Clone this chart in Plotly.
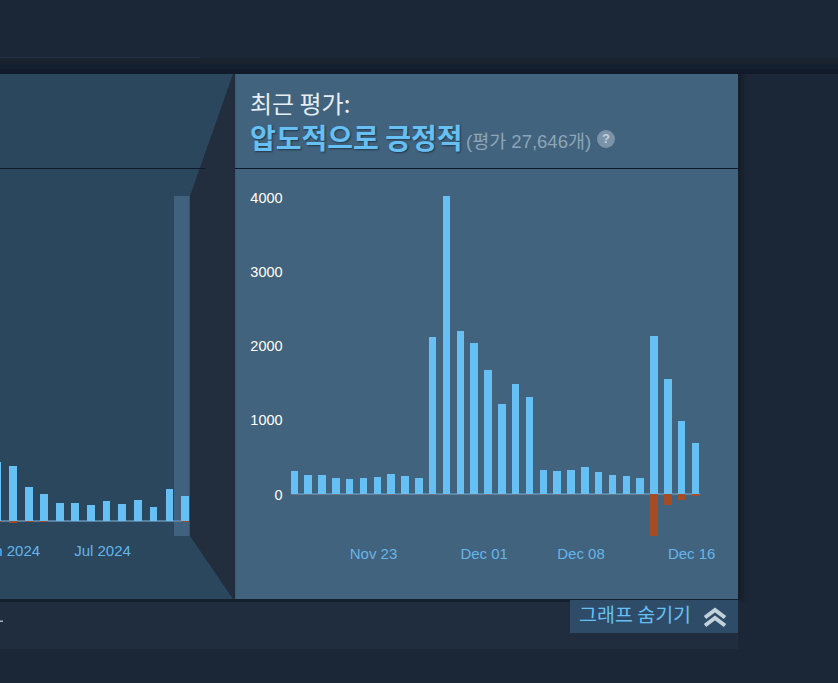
import plotly.graph_objects as go

# ---------- data ----------
recent_dates = [
    "2024-11-17", "2024-11-18", "2024-11-19", "2024-11-20", "2024-11-21", "2024-11-22",
    "2024-11-23", "2024-11-24", "2024-11-25", "2024-11-26", "2024-11-27", "2024-11-28",
    "2024-11-29", "2024-11-30", "2024-12-01", "2024-12-02", "2024-12-03", "2024-12-04",
    "2024-12-05", "2024-12-06", "2024-12-07", "2024-12-08", "2024-12-09", "2024-12-10",
    "2024-12-11", "2024-12-12", "2024-12-13", "2024-12-14", "2024-12-15", "2024-12-16",
]
recent_up = [310, 269, 260, 225, 215, 225, 242, 278, 247, 225, 2120, 4024, 2200, 2043, 1684,
             1215, 1486, 1311, 328, 314, 332, 368, 301, 260, 247, 224, 2137, 1554, 992, 691]
recent_down = [-1, -1, -1, -1, -1, -1, -2, -2, -2, -2, -2, -4, -4, -5, -5,
               -5, -6, -5, -2, -2, -2, -2, -2, -2, -2, -2, -557, -144, -76, -18]
recent_tick_vals = ["2024-11-23", "2024-12-01", "2024-12-08", "2024-12-16"]
recent_tick_text = ["Nov 23", "Dec 01", "Dec 08", "Dec 16"]
recent_y_ticks = [0, 1000, 2000, 3000, 4000]

month_dates = ["2023-12-01", "2024-01-01", "2024-02-01", "2024-03-01", "2024-04-01", "2024-05-01",
               "2024-06-01", "2024-07-01", "2024-08-01", "2024-09-01", "2024-10-01", "2024-11-01",
               "2024-12-01"]
month_up = [29500, 27500, 16850, 13500, 9150, 8850, 8000, 10000, 8650, 10350, 7000, 16000, 12500]
month_down = [-500, -800, -600, -500, -100, -100, -100, -100, -100, -100, -100, -100, -600]
month_tick_vals = ["2024-01-01", "2024-07-01"]
month_tick_text = ["Jan 2024", "Jul 2024"]

TITLE_LABEL = "최근 평가:"
TITLE_VALUE = "압도적으로 긍정적"
TITLE_COUNT = "(평가 27,646개)"
HIDE_LABEL = "그래프 숨기기"

# ---------- helpers: page pixels to paper fractions ----------
W, H = 838, 683
DAY = 86400000
px = lambda x: x / W
py = lambda y: 1 - y / H


def rect(x0, y0, x1, y1, color):
    return dict(type="rect", xref="paper", yref="paper", x0=px(x0), x1=px(x1), y0=py(y0), y1=py(y1),
                fillcolor=color, line=dict(width=0), layer="below")


def path(points, color=None, line=None, closed=True):
    d = "M " + " L ".join(f"{px(a):.5f},{py(b):.5f}" for a, b in points) + (" Z" if closed else "")
    s = dict(type="path", xref="paper", yref="paper", path=d, layer="below",
             line=line or dict(width=0))
    if color:
        s["fillcolor"] = color
    return s


BLUE = "#66c0f4"
RED = "#a34c25"
shapes = [
    rect(0, 0, W, H, "#1b2636"),
    rect(0, 57, 200, 58, "#233245"),
    rect(0, 58, W, 64, "#18232f"),
    rect(0, 64, W, 69, "#142030"),
    rect(0, 69, W, 74, "#101a28"),
    rect(0, 599, 738, 649, "#1f2d3f"),
    rect(744, 74, 747, 603, "#1a2433"),
    rect(741, 74, 744, 602, "#18222f"),
    rect(738, 74, 741, 600, "#151f2c"),
    rect(0, 599, 738, 602, "#16212f"),
    rect(0, 74, 235, 599, "#2a475e"),
    rect(235, 74, 738, 599, "#41637e"),
    path([(233, 74), (235, 74), (235, 599), (233, 599), (190, 536), (190, 196)], "#222d3d"),
    rect(235, 74, 236, 599, "#3d5c76"),
    rect(0, 168, 205, 169, "#0e1a28"),
    rect(235, 168, 738, 169, "#0e1a28"),
    rect(174, 196, 189.5, 536, "#41627e"),
    rect(570, 600, 738, 633, "#2e4c68"),
    path([(705, 617.5), (715, 610), (725, 617.5)], line=dict(color="#c3d1dc", width=4), closed=False),
    path([(705, 625.5), (715, 618), (725, 625.5)], line=dict(color="#c3d1dc", width=4), closed=False),
    rect(0, 620.5, 3, 622, "#9fb4c6"),
    dict(type="circle", xref="paper", yref="paper", x0=px(597), x1=px(615), y0=py(148), y1=py(130),
         fillcolor="#7b93a8", line=dict(width=0), layer="below"),
]


def note(x, y, text, size, color, family="Noto Sans CJK KR, Liberation Sans", xanchor="left", shadow=None):
    font = dict(size=size, color=color, family=family)
    if shadow:
        font["shadow"] = shadow
    return dict(xref="paper", yref="paper", x=px(x), y=py(y), text=text, showarrow=False,
                xanchor=xanchor, yanchor="middle", font=font, borderpad=0, borderwidth=0)


annotations = [
    note(250, 102.5, TITLE_LABEL, 24, "#e6eef4"),
    note(250, 137, f"<b>{TITLE_VALUE}</b>", 28, BLUE, shadow="1px 1px 2px rgba(0,0,0,0.45)"),
    note(466, 141, TITLE_COUNT, 18.5, "#8ea5b7", family="Liberation Sans, Noto Sans CJK KR"),
    note(606, 139, "<b>?</b>", 13, "#c4d0da", family="Liberation Sans", xanchor="center"),
    note(579, 613, HIDE_LABEL, 19.5, BLUE),
]

fig = go.Figure()
bar_common = dict(hoverinfo="skip", marker_line_width=0, showlegend=False, offset=0)
faint_recent = [1 if v <= -15 else 0.3 for v in recent_down]
faint_month = [1 if v <= -500 else 0.4 for v in month_down]
fig.add_bar(x=recent_dates, y=recent_up, marker_color=BLUE, width=0.55 * DAY, **bar_common)
fig.add_bar(x=recent_dates, y=recent_down, marker_color=RED, marker_opacity=faint_recent,
            width=0.55 * DAY, **bar_common)
fig.add_bar(x=month_dates, y=month_up, marker_color=BLUE, width=15 * DAY, xaxis="x2", yaxis="y2", **bar_common)
fig.add_bar(x=month_dates, y=month_down, marker_color=RED, marker_opacity=faint_month,
            width=15 * DAY, xaxis="x2", yaxis="y2", **bar_common)

x_tick_font = dict(family="Liberation Sans, Arial", size=15, color="#66b5ea")
y_tick_font = dict(family="Liberation Sans, Arial", size=14.5, color="#ffffff")

fig.update_layout(
    width=W, height=H, autosize=False,
    margin=dict(l=0, r=0, t=0, b=0, pad=0),
    paper_bgcolor="#1b2636", plot_bgcolor="rgba(0,0,0,0)",
    barmode="relative", bargap=0,
    shapes=shapes, annotations=annotations,
    xaxis=dict(
        automargin=False,
        type="date", domain=[px(290.5), px(700)], range=["2024-11-17 00:00", "2024-12-16 14:24"],
        tickmode="array", tickvals=recent_tick_vals, ticktext=recent_tick_text,
        tickfont=x_tick_font, showgrid=False, zeroline=False, showline=False,
        ticks="outside", tickcolor="rgba(0,0,0,0)", ticklen=1, ticklabeloverflow="allow",
    ),
    yaxis=dict(
        automargin=False,
        domain=[py(539), py(190.3)], range=[-600, 4100],
        tickmode="array", tickvals=recent_y_ticks,
        tickfont=y_tick_font, showgrid=False,
        zeroline=True, zerolinecolor="#5c88a8", zerolinewidth=2, showline=False,
        ticks="outside", tickcolor="rgba(0,0,0,0)", ticklen=4, anchor="x",
    ),
    xaxis2=dict(
        automargin=False,
        type="date", domain=[0, px(189)], range=["2023-12-13 22:00", "2024-12-16 18:00"],
        tickmode="array", tickvals=month_tick_vals, ticktext=month_tick_text,
        tickfont=x_tick_font, showgrid=False, zeroline=False, showline=False,
        ticks="outside", tickcolor="rgba(0,0,0,0)", ticklen=1, ticklabeloverflow="allow",
        anchor="y2",
    ),
    yaxis2=dict(
        automargin=False,
        domain=[py(536), py(196)], range=[-7500, 162500], visible=True, showticklabels=False,
        showgrid=False, zeroline=True, zerolinecolor="#5a7f9c", zerolinewidth=2, showline=False,
        ticks="", anchor="x2",
    ),
)

fig.write_html(
    "out.html",
    config=dict(displayModeBar=False, staticPlot=True),
    post_script="document.body.style.margin='0';document.body.style.overflow='hidden';",
)
